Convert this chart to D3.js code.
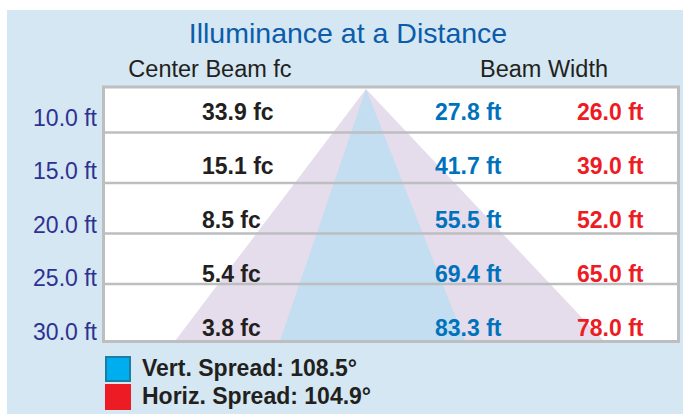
<!DOCTYPE html>
<html>
<head>
<meta charset="utf-8">
<script src="https://cdn.jsdelivr.net/npm/d3@7"></script>
<style>
  body { margin: 0; background: #fff; }
  text { font-family: Arial, "Liberation Sans", Helvetica, sans-serif; }
</style>
</head>
<body>
<script>
// distances down the table and what the light does at each one
var distances = [10, 15, 20, 25, 30];
var centerFc = [33.9, 15.1, 8.5, 5.4, 3.8];
var vertWidth = [27.8, 41.7, 55.5, 69.4, 83.3];
var horizWidth = [26.0, 39.0, 52.0, 65.0, 78.0];

var spreadLabels = ["Vert. Spread", "Horiz. Spread"];
var spreadDegrees = [108.5, 104.9];

var outerWidth = 683;
var outerHeight = 414;

var tableLeft = 103.5;
var tableRight = 678.5;
var tableTop = 87;
var tableBottom = 341.5;

var borderColor = "#bcbec0";
var panelColor = "#d4e7f2";
var colFc = 202, colVert = 435, colHoriz = 577;

// beam drawing (decorative cone from the fixture at the top of the table)
var apex = [366, 89];
var beamBottom = 341;
var horizCone = { left: 175, right: 604, color: "#e5dcec" };
var vertCone = { left: 280, right: 465, color: "#c3ddf1" };

var yText = d3.scaleLinear().domain([10, 30]).range([119.5, 336]);
var yLabel = d3.scaleLinear().domain([10, 30]).range([125.5, 339.5]);
var yLine = d3.scaleLinear().domain([12.5, 27.5]).range([132.5, 284]);

var svg = d3.select("body").append("svg")
    .attr("width", outerWidth)
    .attr("height", outerHeight);

svg.append("rect")
    .attr("x", 7).attr("y", 10)
    .attr("width", outerWidth - 7).attr("height", outerHeight - 10)
    .attr("fill", panelColor);

svg.append("text")
    .attr("x", 348).attr("y", 43)
    .attr("text-anchor", "middle")
    .attr("font-size", 28.5)
    .attr("fill", "#0b5cab")
    .text("Illuminance at a Distance");

svg.append("text")
    .attr("x", 210).attr("y", 77)
    .attr("text-anchor", "middle")
    .attr("font-size", 23.5)
    .attr("fill", "#231f20")
    .text("Center Beam fc");

svg.append("text")
    .attr("x", 544).attr("y", 77)
    .attr("text-anchor", "middle")
    .attr("font-size", 23.5)
    .attr("fill", "#231f20")
    .text("Beam Width");

var defs = svg.append("defs");
defs.append("clipPath").attr("id", "tableclip")
  .append("rect")
    .attr("x", tableLeft).attr("y", tableTop)
    .attr("width", tableRight - tableLeft).attr("height", tableBottom - tableTop);

svg.append("rect")
    .attr("x", tableLeft).attr("y", tableTop)
    .attr("width", tableRight - tableLeft).attr("height", tableBottom - tableTop)
    .attr("fill", "#fff");

var cone = d3.line();
var beams = svg.append("g").attr("clip-path", "url(#tableclip)");
[horizCone, vertCone].forEach(function(c) {
  beams.append("path")
      .attr("d", cone([apex, [c.right, beamBottom], [c.left, beamBottom]]) + "Z")
      .attr("fill", c.color);
});

// row separators
svg.selectAll(".sep")
    .data(distances.slice(0, -1))
    .enter().append("line")
    .attr("class", "sep")
    .attr("x1", tableLeft).attr("x2", tableRight)
    .attr("y1", function(d) { return yLine(d + 2.5); })
    .attr("y2", function(d) { return yLine(d + 2.5); })
    .attr("stroke", borderColor)
    .attr("stroke-width", 2.5);

svg.append("rect")
    .attr("x", tableLeft).attr("y", tableTop)
    .attr("width", tableRight - tableLeft).attr("height", tableBottom - tableTop)
    .attr("fill", "none")
    .attr("stroke", borderColor)
    .attr("stroke-width", 3);

// distance labels
svg.selectAll(".dist")
    .data(distances)
    .enter().append("text")
    .attr("class", "dist")
    .attr("x", 97)
    .attr("y", function(d) { return yLabel(d); })
    .attr("text-anchor", "end")
    .attr("font-size", 23)
    .attr("fill", "#2e3192")
    .text(function(d) { return d.toFixed(1) + " ft"; });

function column(values, x, color, unit) {
  svg.append("g").selectAll("text")
      .data(values)
      .enter().append("text")
      .attr("x", x)
      .attr("y", function(d, i) { return yText(distances[i]); })
      .attr("font-size", 23)
      .attr("font-weight", "bold")
      .attr("fill", color)
      .text(function(d) { return d.toFixed(1) + unit; });
}
column(centerFc, colFc, "#231f20", " fc");
column(vertWidth, colVert, "#0072bc", " ft");
column(horizWidth, colHoriz, "#ed1c24", " ft");

// legend
var legendColors = ["#00aeef", "#ed1c24"];
var legendStroke = ["#1b7fa3", "#ed1c24"];
var legend = svg.selectAll(".legend")
    .data(spreadLabels)
    .enter().append("g")
    .attr("class", "legend")
    .attr("transform", function(d, i) { return "translate(105," + (357 + i * 28) + ")"; });

legend.append("rect")
    .attr("x", 1).attr("y", 0)
    .attr("width", 24).attr("height", 24)
    .attr("fill", function(d, i) { return legendColors[i]; })
    .attr("stroke", function(d, i) { return legendStroke[i]; })
    .attr("stroke-width", 2);

legend.append("text")
    .attr("x", 37).attr("y", 19)
    .attr("font-size", 23)
    .attr("font-weight", "bold")
    .attr("fill", "#231f20")
    .text(function(d, i) { return d + ": " + spreadDegrees[i] + "°"; });
</script>
</body>
</html>
